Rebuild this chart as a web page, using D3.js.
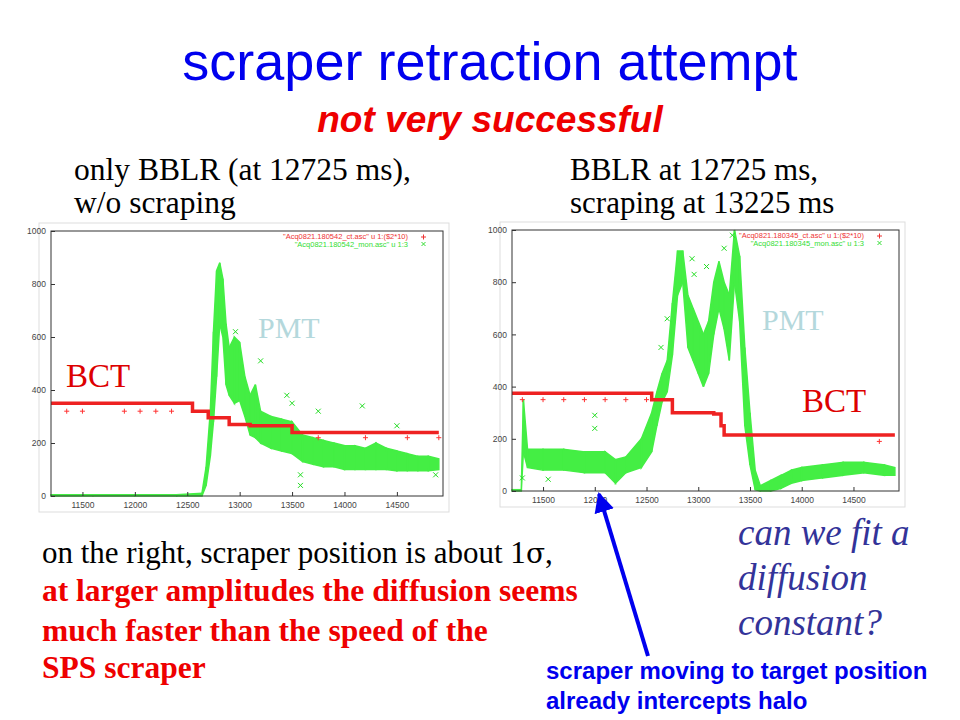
<!DOCTYPE html>
<html><head><meta charset="utf-8">
<script src="https://cdn.jsdelivr.net/npm/d3@7"></script>
<style>body{margin:0;background:#fff}svg{display:block}</style>
</head><body><svg id="slide" width="960" height="720"></svg>
<script>
// left plot: only BBLR
const leftPmtT  = [11200,11600,12000,12400,12640,12680,12720,12750,12780,12810,12840,12870,12900,12950,13000,13050,13100,13150,13200,13300,13400,13500,13600,13700,13800,13900,14000,14100,14200,14300,14400,14500,14600,14700,14800,14900];
const leftPmtLo = [0,0,0,0,0,40,150,280,450,650,600,420,380,350,360,300,230,220,200,180,170,160,130,120,110,110,100,100,100,100,100,95,95,95,95,100];
const leftPmtHi = [5,5,5,5,10,110,320,620,850,880,820,650,560,600,580,450,380,420,320,300,290,280,230,220,210,200,190,190,180,200,180,170,160,150,150,140];
const leftPmtOut = [[12960,620],[13200,510],[13450,380],[13500,350],[13580,80],[13580,40],[13750,320],[14170,340],[14500,265],[14870,80]];
const leftBctT = [11200,12550,12700,12900,13100,13500,14900];
const leftBctV = [350,320,295,270,265,240,240];
const leftBct2 = [[11350,320],[11500,320],[11900,320],[12050,320],[12200,320],[12350,320],[13750,220],[14200,220],[14600,220],[14900,220]];

// right plot: BBLR + scraping
const rightPmtT  = [11200,11290,11310,11350,11500,11700,11900,12100,12200,12300,12450,12550,12600,12650,12700,12750,12800,12850,12900,12950,13000,13050,13100,13150,13200,13250,13300,13350,13400,13450,13500,13550,13600,13700,13800,13900,14000,14200,14400,14600,14800,14900];
const rightPmtLo = [0,0,150,90,80,80,70,70,30,70,90,150,250,340,380,520,750,800,550,500,450,400,450,600,700,620,500,800,650,250,100,5,0,0,10,30,40,50,60,70,60,60];
const rightPmtHi = [5,5,350,160,160,160,150,150,120,130,200,300,380,450,500,720,920,920,750,700,650,600,650,800,880,800,750,1000,900,550,300,80,20,40,60,80,90,100,110,110,100,90];
const rightPmtOut = [[11300,50],[11550,45],[12000,290],[12000,240],[12640,550],[12700,660],[12940,890],[12960,830],[13080,860],[13250,930],[13330,980]];
const rightBctT = [11200,12550,12750,13150,13220,13250,14900];
const rightBctV = [375,350,300,295,250,215,215];
const rightBct2 = [[11300,350],[11500,350],[11700,350],[11900,350],[12100,350],[12300,350],[12500,350],[14750,190]];

const xTicks = [11500,12000,12500,13000,13500,14000,14500];
const yTicks = [0,200,400,600,800,1000];

const svg = d3.select('#slide');

function plot(box, pmt, pmtOut, bct, bct2, file) {
  const [x0, y0, x1, y1] = box;
  const x = d3.scaleLinear().domain([11200, 14940]).range([x0, x1]);
  const y = d3.scaleLinear().domain([0, 1000]).range([y1, y0]);
  const g = svg.append('g');
  g.append('rect').attr('x', x0 - 12).attr('y', y0 - 8).attr('width', x1 - x0 + 18).attr('height', y1 - y0 + 24)
    .attr('fill', 'none').attr('stroke', '#ddd');

  // PMT band as narrow strips between read min and max
  const [t, lo, hi] = pmt;
  t.forEach((tv, i) => {
    if (i === t.length - 1) return;
    g.append('path')
      .attr('d', `M${x(tv)},${y(lo[i])}L${x(t[i + 1])},${y(lo[i + 1])}L${x(t[i + 1])},${y(hi[i + 1])}L${x(tv)},${y(hi[i])}Z`)
      .attr('fill', '#44ee44').attr('stroke', '#44ee44').attr('stroke-width', 1.5);
  });
  const cross = (gg, px, py, s, c) => gg.append('path')
    .attr('d', `M${px - s},${py - s}L${px + s},${py + s}M${px - s},${py + s}L${px + s},${py - s}`)
    .attr('stroke', c).attr('stroke-width', 1);
  pmtOut.forEach(d => cross(g, x(d[0]), y(d[1]), 2.5, '#22dd22'));

  // BCT steps
  const line = d3.line().x(d => x(d[0])).y(d => y(d[1])).curve(d3.curveStepAfter);
  g.append('path').datum(d3.zip(bct[0], bct[1])).attr('d', line)
    .attr('fill', 'none').attr('stroke', '#ee2222').attr('stroke-width', 3.5);
  const plus = (px, py) => g.append('path')
    .attr('d', `M${px - 2.5},${py}L${px + 2.5},${py}M${px},${py - 2.5}L${px},${py + 2.5}`)
    .attr('stroke', '#ff3333').attr('stroke-width', 1);
  bct2.forEach(d => plus(x(d[0]), y(d[1])));

  // axes
  g.append('rect').attr('x', x0).attr('y', y0).attr('width', x1 - x0).attr('height', y1 - y0)
    .attr('fill', 'none').attr('stroke', '#333').attr('stroke-width', 1);
  g.append('g').attr('transform', `translate(0,${y1})`)
    .call(d3.axisBottom(x).tickValues(xTicks).tickSize(-4).tickPadding(6).tickFormat(d3.format('d')))
    .call(a => a.select('.domain').remove());
  g.append('g').attr('transform', `translate(${x0},0)`)
    .call(d3.axisLeft(y).tickValues(yTicks).tickSize(-4).tickPadding(5).tickFormat(d3.format('d')))
    .call(a => a.select('.domain').remove());
  g.selectAll('.tick text').attr('font-size', 8.5).attr('fill', '#444').attr('font-family', 'Liberation Sans');
  g.selectAll('.tick line').attr('stroke', '#333');

  g.append('text').attr('x', x1 - 35).attr('y', y0 + 8).attr('text-anchor', 'end')
    .attr('font-size', 7.5).attr('fill', '#ee3333').attr('font-family', 'Liberation Sans')
    .text(`"Acq0821.${file}ct.asc" u 1:($2*10)`);
  g.append('text').attr('x', x1 - 35).attr('y', y0 + 16).attr('text-anchor', 'end')
    .attr('font-size', 7.5).attr('fill', '#33dd33').attr('font-family', 'Liberation Sans')
    .text(`"Acq0821.${file}mon.asc" u 1:3`);
  g.append('path').attr('d', `M${x1 - 22},${y0 + 6}h5M${x1 - 19.5},${y0 + 3.5}v5`).attr('stroke', '#ee3333');
  cross(g, x1 - 19.5, y0 + 13, 2, '#33dd33');
  return g;
}

plot([51, 231, 443, 496], [leftPmtT, leftPmtLo, leftPmtHi], leftPmtOut, [leftBctT, leftBctV], leftBct2, '180542_');
plot([512, 230, 899, 491], [rightPmtT, rightPmtLo, rightPmtHi], rightPmtOut, [rightBctT, rightBctV], rightBct2, '180345_');

const txt = (x, y, s, opts) => {
  const t = svg.append('text').attr('x', x).attr('y', y).text(s)
    .attr('font-family', opts.f || 'Liberation Serif').attr('font-size', opts.s).attr('fill', opts.c || '#000');
  if (opts.b) t.attr('font-weight', 'bold');
  if (opts.i) t.attr('font-style', 'italic');
  if (opts.a) t.attr('text-anchor', opts.a);
  return t;
};

txt(490, 80, 'scraper retraction attempt', { f: 'Liberation Sans', s: 54, c: '#0000ee', a: 'middle' });
txt(490, 132, 'not very successful', { f: 'Liberation Sans', s: 37, c: '#ee0000', a: 'middle', b: 1, i: 1 });
txt(74, 180, 'only BBLR (at 12725 ms),', { s: 31.5 });
txt(74, 213, 'w/o scraping', { s: 31.5 });
txt(570, 180, 'BBLR at 12725 ms,', { s: 31 });
txt(570, 213, 'scraping at 13225 ms', { s: 31 });
txt(66, 387, 'BCT', { s: 33, c: '#dd0000' });
txt(802, 412, 'BCT', { s: 33, c: '#dd0000' });
txt(258, 338, 'PMT', { s: 30, c: '#b4d8dc' });
txt(762, 330, 'PMT', { s: 30, c: '#b4d8dc' });

const bottom = txt(42, 563, 'on the right, scraper position is about 1', { s: 31 });
bottom.append('tspan').attr('font-family', 'DejaVu Serif').attr('font-size', 28).text('σ');
bottom.append('tspan').text(',');
txt(42, 601, 'at larger amplitudes the diffusion seems', { s: 31.5, c: '#ee0000', b: 1 });
txt(42, 641, 'much faster than the speed of the', { s: 31.5, c: '#ee0000', b: 1 });
txt(42, 678, 'SPS scraper', { s: 31.5, c: '#ee0000', b: 1 });

txt(738, 545, 'can we fit a', { s: 37, c: '#333399', i: 1 });
txt(738, 590, 'diffusion', { s: 37, c: '#333399', i: 1 });
txt(738, 635, 'constant?', { s: 37, c: '#333399', i: 1 });

svg.append('defs').append('marker').attr('id', 'ah').attr('viewBox', '0 0 10 10')
  .attr('refX', 9).attr('refY', 5).attr('markerWidth', 5).attr('markerHeight', 5).attr('orient', 'auto')
  .append('path').attr('d', 'M0,0L10,5L0,10Z').attr('fill', '#0000ee');
svg.append('line').attr('x1', 648).attr('y1', 656).attr('x2', 599).attr('y2', 494)
  .attr('stroke', '#0000ee').attr('stroke-width', 4).attr('marker-end', 'url(#ah)');

txt(546, 679, 'scraper moving to target position', { f: 'Liberation Sans', s: 24, c: '#0000ee', b: 1 });
txt(546, 709, 'already intercepts halo', { f: 'Liberation Sans', s: 24, c: '#0000ee', b: 1 });
</script></body></html>
